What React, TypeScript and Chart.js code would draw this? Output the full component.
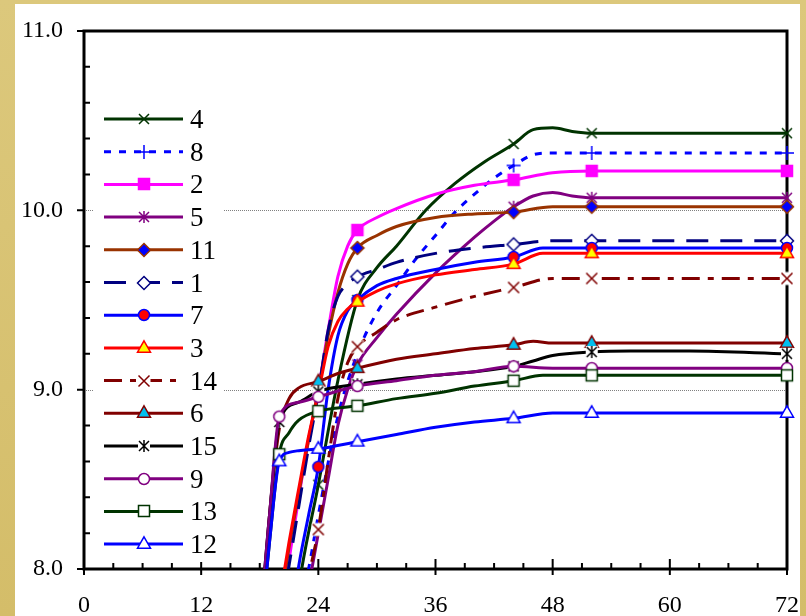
import React, { useEffect, useRef } from 'react';
import { Chart, registerables } from 'chart.js';
Chart.register(...registerables);

type Pt = [number, number];

const X_TICKS = [0, 12, 24, 36, 48, 60, 72];
const Y_TICKS = [8, 9, 10, 11];
const GRID_Y = [9, 10];
const SERIES_NAMES = ['4', '8', '2', '5', '11', '1', '7', '3', '14', '6', '15', '9', '13', '12'];

const S4: Pt[] = [[20, 7.0], [22, 7.9], [24, 8.47], [26, 9.05], [28, 9.5], [30, 9.68], [32, 9.8], [35, 10.0], [38, 10.15], [41, 10.27], [44, 10.37], [46, 10.45], [48, 10.46], [50, 10.44], [52, 10.43], [72, 10.43]];
const S8: Pt[] = [[21, 7.5], [23, 8.0], [24, 8.3], [26, 8.85], [28, 9.2], [30, 9.43], [32, 9.58], [34, 9.73], [36, 9.86], [38, 9.99], [40, 10.09], [42, 10.18], [44, 10.25], [46, 10.31], [48, 10.32], [52, 10.32], [72, 10.32]];
const S2: Pt[] = [[19, 7.4], [21, 8.05], [22, 8.4], [23, 8.72], [24, 9.0], [25, 9.33], [26, 9.63], [27, 9.8], [28, 9.89], [30, 9.96], [32, 10.01], [36, 10.09], [40, 10.14], [44, 10.17], [48, 10.21], [52, 10.22], [72, 10.22]];
const S5: Pt[] = [[22, 7.6], [23, 7.9], [24, 8.2], [25, 8.5], [26, 8.8], [27, 9.0], [28, 9.14], [30, 9.29], [32, 9.42], [36, 9.65], [40, 9.85], [42, 9.94], [44, 10.02], [46, 10.08], [48, 10.1], [50, 10.08], [52, 10.07], [72, 10.07]];
const S11: Pt[] = [[19, 7.4], [21, 8.12], [22, 8.42], [23, 8.72], [24, 9.0], [25, 9.3], [26, 9.54], [27, 9.7], [28, 9.79], [30, 9.86], [32, 9.91], [36, 9.96], [40, 9.98], [44, 9.99], [48, 10.02], [52, 10.02], [72, 10.02]];
const S1: Pt[] = [[19, 7.4], [21, 8.02], [22, 8.35], [23, 8.68], [24, 8.98], [25, 9.33], [26, 9.52], [27, 9.59], [28, 9.63], [30, 9.67], [32, 9.71], [36, 9.76], [40, 9.79], [44, 9.81], [48, 9.83], [52, 9.83], [72, 9.83]];
const S7: Pt[] = [[20, 7.3], [22, 8.02], [23, 8.3], [24, 8.57], [25, 9.0], [26, 9.3], [27, 9.44], [28, 9.5], [30, 9.58], [32, 9.62], [36, 9.67], [40, 9.71], [44, 9.74], [47, 9.79], [52, 9.79], [72, 9.79]];
const S3: Pt[] = [[19, 7.5], [20, 7.82], [21, 8.15], [22, 8.45], [23, 8.74], [24, 8.98], [25, 9.24], [26, 9.38], [27, 9.45], [28, 9.49], [30, 9.55], [32, 9.59], [36, 9.64], [40, 9.67], [44, 9.7], [47, 9.76], [52, 9.76], [72, 9.76]];
const S14: Pt[] = [[22, 7.6], [23, 7.95], [24, 8.22], [25, 8.6], [26, 8.95], [27, 9.15], [28, 9.24], [30, 9.32], [32, 9.39], [36, 9.46], [40, 9.52], [44, 9.57], [48, 9.62], [52, 9.62], [72, 9.62]];
const S6: Pt[] = [[18, 7.6], [19, 8.3], [20, 8.78], [21, 8.95], [22, 9.01], [24, 9.045], [26, 9.09], [28, 9.12], [32, 9.17], [36, 9.2], [40, 9.23], [44, 9.25], [46, 9.27], [48, 9.26], [52, 9.26], [72, 9.26]];
const S15: Pt[] = [[17, 7.3], [18, 7.7], [19, 8.3], [20, 8.82], [22, 8.93], [24, 8.99], [28, 9.03], [32, 9.06], [36, 9.08], [40, 9.1], [44, 9.13], [46, 9.16], [48, 9.19], [52, 9.21], [56, 9.215], [62, 9.215], [72, 9.2]];
const S9: Pt[] = [[17, 7.3], [18, 7.7], [19, 8.3], [20, 8.85], [22, 8.93], [24, 8.96], [28, 9.02], [32, 9.05], [36, 9.08], [40, 9.1], [44, 9.13], [48, 9.12], [52, 9.12], [72, 9.12]];
const S13: Pt[] = [[17, 7.0], [18, 7.6], [19, 8.15], [20, 8.64], [21, 8.76], [22, 8.83], [24, 8.88], [28, 8.91], [32, 8.95], [36, 8.98], [40, 9.02], [44, 9.05], [47, 9.08], [52, 9.08], [72, 9.08]];
const S12: Pt[] = [[17, 7.1], [18, 7.6], [19, 8.15], [20, 8.6], [21, 8.65], [22, 8.66], [24, 8.67], [28, 8.71], [32, 8.75], [36, 8.79], [40, 8.82], [44, 8.84], [48, 8.87], [52, 8.87], [72, 8.87]];

const MARK_8 = [44, 52, 72];
const MARK_A = [28, 44, 52, 72];
const MARK_B = [24, 28, 44, 52, 72];
const MARK_C = [20, 24, 28, 44, 52, 72];

const SERIES_DATA: Pt[][] = [S4, S8, S2, S5, S11, S1, S7, S3, S14, S6, S15, S9, S13, S12];
const SERIES_MARKS: number[][] = [MARK_B, MARK_8, MARK_A, MARK_A, MARK_A, MARK_A, MARK_B, MARK_A, MARK_B, MARK_B, MARK_C, MARK_C, MARK_C, MARK_C];

type Marker = { kind: string; size: number; stroke: string; fill?: string; lw?: number; bg?: boolean };
type Style = { color: string; dash: number[]; marker: Marker };

const STYLES: Style[] = [
  { color: '#003300', dash: [], marker: { kind: 'x', size: 10, stroke: '#003300' } },
  { color: '#0000FF', dash: [7, 8], marker: { kind: 'plus', size: 14, stroke: '#0000FF' } },
  { color: '#FF00FF', dash: [], marker: { kind: 'square', size: 11, stroke: '#FF00FF', fill: '#FF00FF' } },
  { color: '#800080', dash: [], marker: { kind: 'star', size: 10, stroke: '#800080' } },
  { color: '#993300', dash: [], marker: { kind: 'diamond', size: 13, stroke: '#993300', fill: '#0000FF' } },
  { color: '#000080', dash: [22, 12], marker: { kind: 'diamond', size: 13, stroke: '#000080', fill: '#FFFFFF' } },
  { color: '#0000FF', dash: [], marker: { kind: 'circle', size: 11, stroke: '#0000FF', fill: '#FF0000' } },
  { color: '#FF0000', dash: [], marker: { kind: 'triangle', size: 13, stroke: '#FF0000', fill: '#FFFF00' } },
  { color: '#800000', dash: [18, 8, 6, 8], marker: { kind: 'x', size: 11, stroke: '#800000', bg: true } },
  { color: '#800000', dash: [], marker: { kind: 'triangle', size: 13, stroke: '#800000', fill: '#00C0F0' } },
  { color: '#000000', dash: [], marker: { kind: 'star', size: 10, stroke: '#000000', bg: true } },
  { color: '#800080', dash: [], marker: { kind: 'circle', size: 11, stroke: '#800080', fill: '#FFFFFF' } },
  { color: '#003300', dash: [], marker: { kind: 'square', size: 11, stroke: '#003300', fill: '#FFFFFF' } },
  { color: '#0000FF', dash: [], marker: { kind: 'triangle', size: 13, stroke: '#0000FF', fill: '#FFFFFF' } },
];

function makeMarker(m: Marker): HTMLCanvasElement {
  const S = 24;
  const c = S / 2;
  const cv = document.createElement('canvas');
  cv.width = S;
  cv.height = S;
  const g = cv.getContext('2d')!;
  const h = m.size / 2;
  g.lineWidth = m.lw ?? 1.5;
  g.strokeStyle = m.stroke;
  g.lineJoin = 'miter';
  if (m.bg) {
    g.fillStyle = '#FFFFFF';
    g.fillRect(c - h - 1, c - h - 1, 2 * h + 2, 2 * h + 2);
  }
  g.beginPath();
  switch (m.kind) {
    case 'x':
      g.moveTo(c - h, c - h); g.lineTo(c + h, c + h);
      g.moveTo(c + h, c - h); g.lineTo(c - h, c + h);
      g.stroke();
      break;
    case 'plus':
      g.moveTo(c - h, c); g.lineTo(c + h, c);
      g.moveTo(c, c - h); g.lineTo(c, c + h);
      g.stroke();
      break;
    case 'star':
      g.moveTo(c - h, c - h); g.lineTo(c + h, c + h);
      g.moveTo(c + h, c - h); g.lineTo(c - h, c + h);
      g.moveTo(c, c - h - 1); g.lineTo(c, c + h + 1);
      g.stroke();
      break;
    case 'square':
      g.rect(c - h, c - h, 2 * h, 2 * h);
      g.fillStyle = m.fill || '#fff'; g.fill(); g.stroke();
      break;
    case 'diamond':
      g.moveTo(c, c - h); g.lineTo(c + h, c); g.lineTo(c, c + h); g.lineTo(c - h, c); g.closePath();
      g.fillStyle = m.fill || '#fff'; g.fill(); g.stroke();
      break;
    case 'circle':
      g.arc(c, c, h, 0, Math.PI * 2);
      g.fillStyle = m.fill || '#fff'; g.fill(); g.stroke();
      break;
    case 'triangle':
      g.moveTo(c, c - h * 1.1); g.lineTo(c + h, c + h * 0.65); g.lineTo(c - h, c + h * 0.65); g.closePath();
      g.fillStyle = m.fill || '#fff'; g.fill(); g.stroke();
      break;
  }
  return cv;
}

const FONT = '"Liberation Serif", "Times New Roman", serif';

function zeroPadding(s: any) {
  s.paddingLeft = 0;
  s.paddingRight = 0;
  s.paddingTop = 0;
  s.paddingBottom = 0;
}

export default function App() {
  const ref = useRef<HTMLCanvasElement>(null);
  useEffect(() => {
    const canvas = ref.current!;
    const markers = STYLES.map((s) => makeMarker(s.marker));

    const datasets = SERIES_NAMES.map((name, i) => {
      const st = STYLES[i];
      const marks = SERIES_MARKS[i];
      return {
        label: name,
        data: SERIES_DATA[i].map(([x, y]) => ({ x, y })),
        borderColor: st.color,
        backgroundColor: st.color,
        borderWidth: 3,
        borderDash: st.dash,
        borderCapStyle: 'butt',
        borderJoinStyle: 'round',
        cubicInterpolationMode: 'monotone',
        fill: false,
        pointStyle: markers[i],
        pointRadius: (ctx: any) => (ctx.raw && marks.includes(ctx.raw.x) ? 5 : 0),
        pointHoverRadius: 0,
        clip: { left: 0, top: 0, right: 14, bottom: 0 },
      };
    }).reverse();

    const plugin = {
      id: 'frameAndLegend',
      beforeDraw(chart: any) {
        const { ctx, width, height } = chart;
        ctx.save();
        const grd = ctx.createLinearGradient(0, 0, 0, height);
        grd.addColorStop(0, '#DCC87C');
        grd.addColorStop(1, '#D4BD69');
        ctx.fillStyle = grd;
        ctx.fillRect(0, 0, width, height);
        ctx.fillStyle = '#FFFFFF';
        ctx.fillRect(15, 4, 785, height - 4);
        ctx.restore();
      },
      beforeDatasetsDraw(chart: any) {
        const { ctx, chartArea: a } = chart;
        const xs = chart.scales.x;
        const ys = chart.scales.y;
        ctx.save();
        ctx.strokeStyle = '#808080';
        ctx.lineWidth = 1;
        ctx.setLineDash([1, 1]);
        for (const v of GRID_Y) {
          const py = Math.round(ys.getPixelForValue(v)) + 0.5;
          ctx.beginPath();
          ctx.moveTo(a.left, py);
          ctx.lineTo(a.right, py);
          ctx.stroke();
        }
        ctx.setLineDash([]);
        ctx.strokeStyle = '#000000';
        ctx.lineWidth = 2;
        ctx.beginPath();
        for (let k = 1; k < 15; k++) {
          const v = 8 + k * 0.2;
          if (k % 5 === 0) continue;
          const py = ys.getPixelForValue(v);
          ctx.moveTo(a.left, py);
          ctx.lineTo(a.left + 6, py);
        }
        for (const v of Y_TICKS) {
          const py = ys.getPixelForValue(v);
          ctx.moveTo(a.left - 7, py);
          ctx.lineTo(a.left, py);
        }
        for (let t = 3; t < 72; t += 3) {
          if (t % 12 === 0) continue;
          const px = xs.getPixelForValue(t);
          ctx.moveTo(px, a.bottom);
          ctx.lineTo(px, a.bottom - 6);
        }
        for (const t of X_TICKS) {
          const px = xs.getPixelForValue(t);
          ctx.moveTo(px, a.bottom + 6);
          ctx.lineTo(px, a.bottom - 10);
        }
        ctx.stroke();
        ctx.lineWidth = 3;
        ctx.strokeRect(a.left, a.top, a.right - a.left, a.bottom - a.top);
        ctx.restore();
      },
      afterDatasetsDraw(chart: any) {
        const { ctx } = chart;
        ctx.save();
        ctx.fillStyle = '#FFFFFF';
        ctx.fillRect(93, 102, 130, 460);
        SERIES_NAMES.forEach((name, i) => {
          const st = STYLES[i];
          const y = 119 + i * 32.7;
          ctx.strokeStyle = st.color;
          ctx.lineWidth = 3;
          ctx.lineCap = 'butt';
          ctx.setLineDash(st.dash);
          ctx.beginPath();
          ctx.moveTo(104, y);
          ctx.lineTo(183, y);
          ctx.stroke();
          ctx.setLineDash([]);
          const m = markers[i];
          ctx.drawImage(m, Math.round(143.5 - m.width / 2), Math.round(y - m.height / 2));
          ctx.fillStyle = '#000000';
          ctx.font = `27px ${FONT}`;
          ctx.textAlign = 'left';
          ctx.textBaseline = 'alphabetic';
          ctx.fillText(name, 190, y + 9);
        });
        ctx.restore();
      },
    };

    const chart = new Chart(canvas, {
      type: 'line',
      data: { datasets: datasets as any },
      options: {
        responsive: false,
        animation: false,
        events: [],
        layout: { padding: { top: 31, right: 19, left: 0, bottom: 0 } },
        plugins: { legend: { display: false }, tooltip: { enabled: false } },
        scales: {
          x: {
            type: 'linear',
            min: 0,
            max: 72,
            afterFit: (s: any) => { s.height = 47; zeroPadding(s); },
            afterBuildTicks: (s: any) => { s.ticks = X_TICKS.map((v) => ({ value: v })); },
            grid: { display: false, drawTicks: false },
            border: { display: false },
            ticks: { color: '#000000', padding: 22, maxRotation: 0, font: { family: FONT, size: 24 } },
          },
          y: {
            type: 'linear',
            min: 8,
            max: 11,
            afterFit: (s: any) => { s.width = 84; zeroPadding(s); },
            afterBuildTicks: (s: any) => { s.ticks = Y_TICKS.map((v) => ({ value: v })); },
            grid: { display: false, drawTicks: false },
            border: { display: false },
            ticks: { color: '#000000', padding: 21, font: { family: FONT, size: 24 }, callback: (v: any) => Number(v).toFixed(1) },
          },
        },
      },
      plugins: [plugin],
    });
    return () => chart.destroy();
  }, []);

  return (
    <div style={{ position: 'absolute', left: 0, top: 0, width: 806, height: 616 }}>
      <canvas ref={ref} width={806} height={616} style={{ width: 806, height: 616, display: 'block' }} />
    </div>
  );
}
